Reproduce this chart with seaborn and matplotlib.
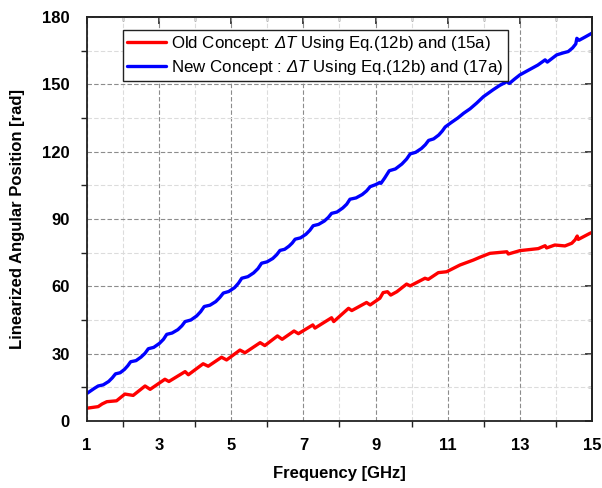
import matplotlib
matplotlib.use("Agg")
import matplotlib.pyplot as plt
from matplotlib.ticker import MultipleLocator
import pandas as pd
import seaborn as sns

# Linearized angular position versus frequency for the two concepts
blue_x = [1.00, 1.10, 1.20, 1.31,
          1.45, 1.60, 1.70, 1.79,
          1.92, 2.04, 2.13, 2.21,
          2.36, 2.50, 2.61, 2.70,
          2.85, 3.01, 3.12, 3.21,
          3.36, 3.52, 3.63, 3.72,
          3.88, 4.04, 4.15, 4.25,
          4.41, 4.57, 4.68, 4.78,
          4.93, 5.09, 5.20, 5.29,
          5.46, 5.62, 5.74, 5.84,
          5.99, 6.15, 6.26, 6.35,
          6.48, 6.60, 6.69, 6.77,
          6.92, 7.07, 7.18, 7.27,
          7.42, 7.58, 7.69, 7.78,
          7.93, 8.09, 8.20, 8.29,
          8.46, 8.63, 8.75, 8.85,
          9.00, 9.12, 9.15, 9.25, 9.38,
          9.55, 9.73, 9.86, 9.96,
          10.11, 10.27, 10.38, 10.47,
          10.61, 10.75, 10.85, 10.93,
          11.10, 11.28, 11.44,
          11.62, 11.80, 11.99,
          12.26, 12.45, 12.64, 12.71,
          12.85, 13.00,
          13.25, 13.50, 13.70, 13.76,
          14.02, 14.20, 14.34, 14.46, 14.55, 14.58, 14.64,
          14.80, 15.00]
blue_y = [12.3, 13.4, 14.5, 15.6,
          16.1, 17.6, 19.2, 21.0,
          21.5, 23.0, 24.6, 26.4,
          26.9, 28.5, 30.2, 32.2,
          32.8, 34.6, 36.4, 38.6,
          39.2, 40.7, 42.4, 44.3,
          45.0, 46.8, 48.7, 51.0,
          51.6, 53.2, 55.0, 57.0,
          57.7, 59.4, 61.4, 63.6,
          64.3, 66.0, 67.9, 70.3,
          70.9, 72.4, 74.1, 76.0,
          76.5, 77.9, 79.3, 81.0,
          81.6, 83.2, 85.0, 87.0,
          87.6, 89.1, 90.7, 92.5,
          93.1, 94.9, 96.6, 98.8,
          99.4, 100.9, 102.5, 104.4,
          105.3, 106.3, 105.9, 108.2, 111.5,
          112.3, 114.5, 116.7, 119.0,
          119.7, 121.4, 123.1, 125.0,
          125.7, 127.4, 129.2, 131.0,
          133.0, 135.0, 137.1,
          139.1, 141.6, 144.5,
          147.6, 149.6, 151.2, 150.4,
          152.3, 154.2,
          156.4, 158.6, 160.9, 159.9,
          163.1, 164.0, 164.6, 166.2, 168.0, 170.5, 169.6,
          171.0, 172.8]

red_x = [1.00, 1.31, 1.42, 1.55, 1.82, 2.05, 2.28, 2.61, 2.75, 3.16,
         3.27, 3.72, 3.81, 4.22, 4.36, 4.73, 4.87, 5.24, 5.38, 5.80,
         5.93, 6.28, 6.41, 6.74, 6.86, 7.26, 7.32, 7.78, 7.84, 8.25,
         8.34, 8.75, 8.85, 9.12, 9.21, 9.33, 9.42, 9.59, 9.86, 9.96,
         10.37, 10.46, 10.74, 10.97, 11.34, 11.71, 11.90, 12.17, 12.64, 12.68,
         13.00, 13.51, 13.70, 13.74, 13.97, 14.25, 14.44, 14.53, 14.59, 14.62,
         14.94, 15.00]
red_y = [5.7, 6.4, 7.6, 8.6, 9.0, 12.0, 11.4, 15.6, 14.1, 18.6,
         17.6, 22.0, 20.6, 25.5, 24.4, 28.4, 27.2, 31.6, 30.4, 34.9,
         33.6, 37.9, 36.4, 40.1, 38.9, 42.8, 41.4, 46.0, 44.3, 50.2,
         49.2, 52.8, 51.7, 54.7, 57.2, 57.6, 56.1, 57.6, 61.0, 60.2,
         63.6, 63.1, 66.1, 66.5, 69.5, 71.7, 73.0, 74.7, 75.4, 74.4,
         75.9, 76.8, 78.1, 77.1, 78.4, 78.0, 79.2, 80.7, 82.4, 80.9,
         83.6, 84.0]

label_old = "Old Concept: $ΔT$ Using Eq.(12b) and (15a)"
label_new = "New Concept : $ΔT$ Using Eq.(12b) and (17a)"

x_major = [1, 3, 5, 7, 9, 11, 13, 15]
y_major = [0, 30, 60, 90, 120, 150, 180]

df = pd.concat([
    pd.DataFrame({"freq": red_x, "pos": red_y, "series": label_old}),
    pd.DataFrame({"freq": blue_x, "pos": blue_y, "series": label_new}),
], ignore_index=True)

sns.set_theme(style="white")
plt.rcParams["font.family"] = ["Liberation Sans", "DejaVu Sans"]
# math segments (only the ΔT symbols) are set fully in italic
plt.rcParams["mathtext.fontset"] = "custom"
plt.rcParams["mathtext.rm"] = "Liberation Sans:italic"
plt.rcParams["mathtext.it"] = "Liberation Sans:italic"
plt.rcParams["text.color"] = "black"
plt.rcParams["axes.labelcolor"] = "black"
plt.rcParams["xtick.color"] = "black"
plt.rcParams["ytick.color"] = "black"

fig = plt.figure(figsize=(6.02, 4.88), dpi=100)
ax = fig.add_axes([0.1445, 0.1373, 0.8389, 0.8279])

sns.lineplot(data=df, x="freq", y="pos", hue="series",
             palette={label_old: "#ff0000", label_new: "#0000ff"},
             estimator=None, sort=False, linewidth=2.4, ax=ax)

ax.set_xlim(1, 15)
ax.set_ylim(0, 180)
ax.set_xticks(x_major)
ax.set_yticks(y_major)
ax.xaxis.set_minor_locator(MultipleLocator(1))
ax.yaxis.set_minor_locator(MultipleLocator(15))

ax.set_axisbelow(True)
ax.grid(which="major", color="#8c8c8c", linestyle=(0, (4, 2)), linewidth=0.8)
ax.grid(which="minor", color="#dcdcdc", linestyle=(0, (4, 2)), linewidth=0.8)

for sp in ax.spines.values():
    sp.set_color("#222222")
    sp.set_linewidth(1.3)

ax.tick_params(which="major", direction="out", length=7, width=1.2,
               color="#222222", labelcolor="black", labelsize=12, pad=5.5)
ax.tick_params(which="minor", direction="out", length=4, width=1.0,
               color="#222222", bottom=True, left=True)
for lab in ax.get_xticklabels() + ax.get_yticklabels():
    lab.set_fontweight("bold")

top = ax.secondary_xaxis("top")
top.set_xticks(x_major)
top.xaxis.set_minor_locator(MultipleLocator(1))
top.tick_params(which="major", direction="in", length=5, width=1.2,
                color="#222222", labeltop=False)
top.tick_params(which="minor", direction="in", length=3, width=1.0,
                color="#222222")
right = ax.secondary_yaxis("right")
right.set_yticks(y_major)
right.yaxis.set_minor_locator(MultipleLocator(15))
right.tick_params(which="major", direction="in", length=5, width=1.2,
                  color="#222222", labelright=False)
right.tick_params(which="minor", direction="in", length=3, width=1.0,
                  color="#222222")

ax.set_xlabel("Frequency [GHz]", fontsize=12, fontweight="bold", labelpad=9)
ax.set_ylabel("Linearized Angular Position [rad]", fontsize=12,
              fontweight="bold", labelpad=12)

leg = ax.legend(loc="upper left", bbox_to_anchor=(0.071, 0.968),
                borderaxespad=0, fontsize=12.2, frameon=True, fancybox=False,
                handlelength=2.3, handletextpad=0.3, borderpad=0.25,
                labelspacing=0.3)
leg.get_frame().set_edgecolor("#222222")
leg.get_frame().set_linewidth(1.0)
leg.get_frame().set_alpha(1)
for line in leg.get_lines():
    line.set_linewidth(2.4)

fig.savefig("out.png", dpi=100)
